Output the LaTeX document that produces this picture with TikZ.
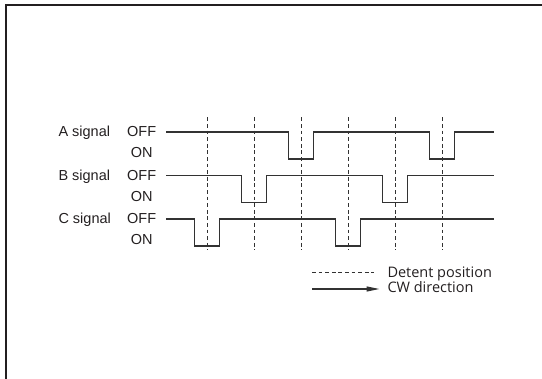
\documentclass[tikz,border=0pt]{standalone}
\usepackage{fontspec}
\setmainfont{Liberation Sans}
\newfontfamily\legendfont{Open Sans}
\usepackage{tikz}
\usetikzlibrary{arrows.meta, positioning}
\definecolor{ink}{RGB}{35, 31, 32}
\definecolor{trace}{RGB}{50, 50, 50}

\begin{document}
\begin{tikzpicture}[
    x=1pt, y=-1pt,
    every node/.style={font=\fontsize{14.5}{16}\selectfont, text=ink, inner sep=0pt},
    sigtext/.style={anchor=base west},
    lvltext/.style={anchor=base},
    wave/.style={trace, line width=1.2pt},
    detent/.style={trace, line width=0.9pt, dash pattern=on 3.8pt off 2.8pt},
    legend/.style={anchor=base west, font=\legendfont\fontsize{14.5}{16}\selectfont}
]
    \useasboundingbox (0,0) rectangle (542,379);
    % frame, only its top and left edge fall inside
    \draw[ink, line width=2pt] (542,5.5) -- (6,5.5) -- (6,379);

    % detent positions
    \foreach \d in {207,254,...,442}
        \draw[detent] (\d,117.5) -- (\d,250.5);

    % signal / OFF level / first pulse / second pulse
    \foreach \s/\y/\p/\q in {A/132/301/442, B/175.5/254/395, C/219/207/348} {
        \node (sig\s) [sigtext] at (58.3,\y+5) {\s{} signal};
        \node (off\s) [sigtext] at (127,\y+5) {OFF};
        \node (on\s) [lvltext] at (141.7,\y+26) {ON};
        \draw[wave] (166,\y) -- (\p-12.5,\y) |- (\p+12.5,\y+27) |- (\q-12.5,\y)
            |- (\q+12.5,\y+27) |- (494,\y);
    }

    % legend
    \node (detentText) [legend] at (387.3,277.5) {Detent position};
    \node (cwText) [legend] at (387.3,293) {CW direction};
    \coordinate (detentStart) at (312,272.5);
    \coordinate (detentEnd) at (374,272.5);
    \coordinate (cwStart) at (312,289);
    \coordinate (cwEnd) at (379.5,289);
    \draw[detent] (detentStart) -- (detentEnd);
    \draw[wave, -{Triangle[length=13pt, width=5pt]}] (cwStart) -- (cwEnd);
\end{tikzpicture}
\end{document}
